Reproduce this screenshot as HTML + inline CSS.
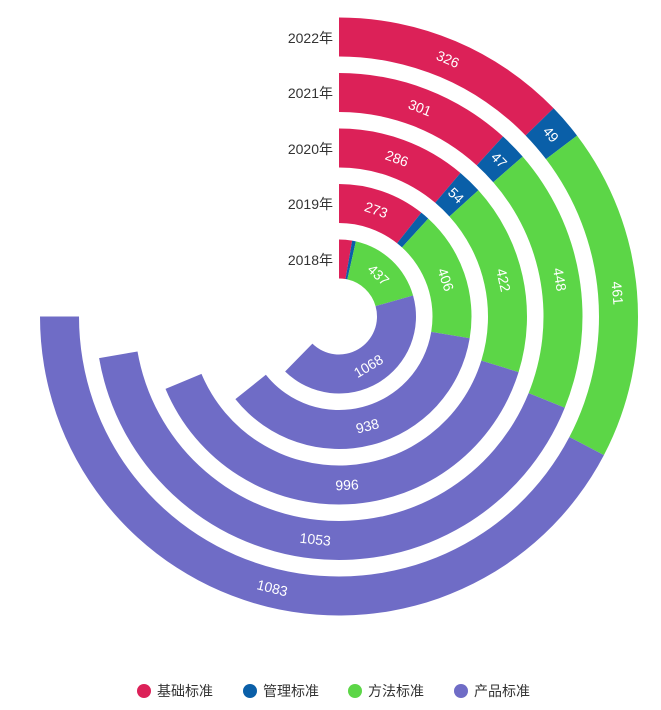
<!DOCTYPE html>
<html><head><meta charset="utf-8"><style>
html,body{margin:0;padding:0;background:#fff;width:661px;height:710px;overflow:hidden}
</style></head><body>
<svg id="s" width="661" height="710" xmlns="http://www.w3.org/2000/svg" font-family="Liberation Sans, Noto Sans CJK SC, sans-serif">
<g id="g"></g>
<g font-size="14" fill="#333" text-anchor="end">
<text x="333" y="43">2022年</text>
<text x="333" y="98">2021年</text>
<text x="333" y="154">2020年</text>
<text x="333" y="209">2019年</text>
<text x="333" y="265">2018年</text>
</g>
<g font-size="14" fill="#333">
<circle cx="144" cy="691" r="7" fill="#dc2158"/><text x="157" y="696">基础标准</text>
<circle cx="250" cy="691" r="7" fill="#0a5fa8"/><text x="263" y="696">管理标准</text>
<circle cx="355" cy="691" r="7" fill="#5cd647"/><text x="368" y="696">方法标准</text>
<circle cx="461" cy="691" r="7" fill="#6f6cc6"/><text x="474" y="696">产品标准</text>
</g>
</svg>
<script>
var cx=339,cy=316.5,k=270/1919;
var data=[[70,20,437,1068],[273,28,406,938],[286,54,422,996],[301,47,448,1053],[326,49,461,1083]];
var lab=[[false,false,true,true],[true,false,true,true],[true,true,true,true],[true,true,true,true],[true,true,true,true]];
var col=["#dc2158","#0a5fa8","#5cd647","#6f6cc6"];
var g=document.getElementById('g'),h='';
function pt(r,a){a=a*Math.PI/180;return [cx+r*Math.sin(a),cy-r*Math.cos(a)];}
for(var i=0;i<5;i++){var r0=38+55.5*i,r1=r0+39,acc=0;
for(var j=0;j<4;j++){var a0=acc*k,a1=(acc+data[i][j])*k;acc+=data[i][j];
var p1=pt(r1,a0),p2=pt(r1,a1),p3=pt(r0,a1),p4=pt(r0,a0),lg=(a1-a0)>180?1:0;
h+='<path fill="'+col[j]+'" d="M'+p1+' A'+r1+' '+r1+' 0 '+lg+' 1 '+p2+' L'+p3+' A'+r0+' '+r0+' 0 '+lg+' 0 '+p4+'Z"/>';
if(lab[i][j]){var am=(a0+a1)/2,pm=pt((r0+r1)/2,am),rot=(am>90&&am<270)?am-180:am;
h+='<text fill="#fff" font-size="14" text-anchor="middle" dominant-baseline="central" transform="translate('+pm+') rotate('+rot+')">'+data[i][j]+'</text>';}
}}
g.innerHTML=h;
</script>
</body></html>
